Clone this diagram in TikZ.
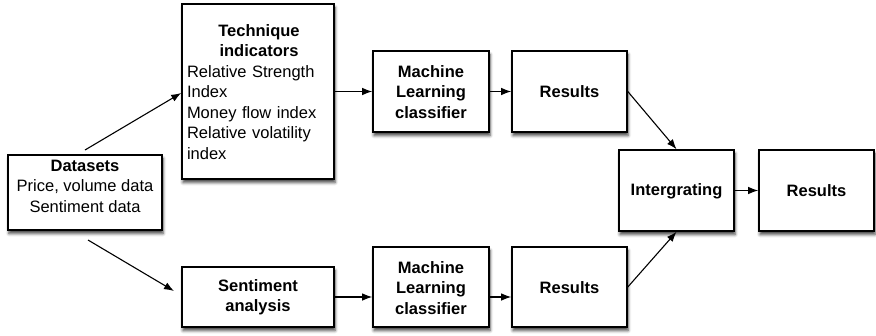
\documentclass[tikz,border=0pt]{standalone}
\usepackage{fontspec}
\setmainfont{Liberation Sans}
\usetikzlibrary{arrows.meta,shadows.blur}
\begin{document}
\begin{tikzpicture}[x=1pt,y=-1pt,
  box/.style={draw=black,line width=1.6pt,fill=white,inner sep=0pt,
    blur shadow={shadow xshift=1pt,shadow yshift=-3.5pt,shadow blur radius=3pt,shadow opacity=75}},
  lbl/.style={font=\fontsize{16.5}{20.5}\selectfont,align=center,inner sep=0pt},
  blbl/.style={lbl,font=\fontsize{16.5}{20.5}\selectfont\bfseries},
  conn/.style={line width=1.1pt,-{Latex[length=10pt,width=7.5pt]}}]
\useasboundingbox (0,0) rectangle (876,335);
% boxes
\node[box,minimum width=154pt,minimum height=75pt] (ds) at (85,192.5) {};
\node[lbl] (dst) at (85,186) {\textbf{Datasets}\\Price, volume data\\Sentiment data};
\node[box,minimum width=152pt,minimum height=175pt] (ti) at (258,91.5) {};
\node[lbl,text width=144pt,align=left] (tit) at (259,92) {{\centering\bfseries Technique\\indicators\par}Relative Strength\\Index\\Money flow index\\Relative volatility\\index};
\node[box,minimum width=152pt,minimum height=60pt] (sa) at (258,297) {};
\node[blbl] (sat) at (258,297) {Sentiment\\analysis};
\node[box,minimum width=116pt,minimum height=81pt] (ml1) at (431,91.5) {};
\node[blbl] (ml1t) at (431,92) {Machine\\Learning\\classifier};
\node[box,minimum width=116pt,minimum height=80pt] (ml2) at (431,287) {};
\node[blbl] (ml2t) at (431,288) {Machine\\Learning\\classifier};
\node[box,minimum width=115pt,minimum height=81pt] (r1) at (569.5,91.5) {};
\node[blbl] (r1t) at (569.5,92) {Results};
\node[box,minimum width=115pt,minimum height=80pt] (r2) at (569.5,287) {};
\node[blbl] (r2t) at (569.5,288) {Results};
\node[box,minimum width=115pt,minimum height=81pt] (ig) at (676.5,190.5) {};
\node[blbl] (igt) at (676.5,191) {Intergrating};
\node[box,minimum width=115pt,minimum height=81pt] (fr) at (816.5,190.5) {};
\node[blbl] (frt) at (816.5,191) {Results};
% connectors
\coordinate (dsu) at (85,150);
\coordinate (dsd) at (88,240);
\coordinate (sa1) at (174,291);
\draw[conn] (dsu) -- (ti.west |- 0,93);
\draw[conn] (dsd) -- (sa1);
\draw[conn] (ti.east |- ml1) -- (ml1.west);
\draw[conn] (sa.east |- 0,297) -- (ml2.west |- 0,297);
\draw[conn] (ml1.east) -- (r1.west);
\draw[conn] (ml2.east |- 0,297) -- (r2.west |- 0,297);
\draw[conn] (r1.east) -- (ig.north);
\draw[conn] (r2.east) -- (ig.south);
\draw[conn] (ig.east) -- (fr.west);
\end{tikzpicture}
\end{document}
